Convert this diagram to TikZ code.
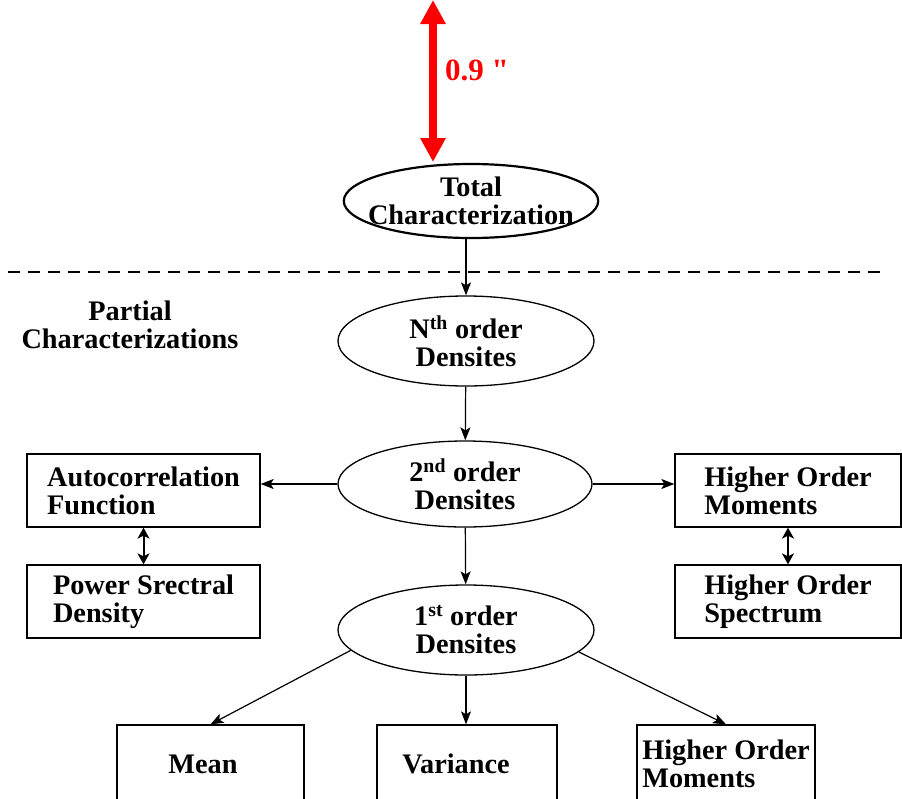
\documentclass[tikz,border=0pt]{standalone}
\usepackage{fontspec}
\setmainfont{Liberation Serif}
\newfontfamily\quotefont{Liberation Serif}[Ligatures=TeXOff]
\usetikzlibrary{shapes.geometric,arrows.meta}

\tikzset{
  txt/.style={font=\bfseries\fontsize{28.3}{28}\selectfont, align=center},
  oval/.style={txt, draw, line width=1.3pt, ellipse, inner sep=0pt, minimum width=256pt, minimum height=90pt},
  box/.style={txt, draw, line width=1.3pt, align=left, minimum height=73pt},
  arr/.style={line width=1.2pt, -{Stealth[length=13pt,width=10pt,inset=3pt]}},
  dblarr/.style={line width=2pt, {Stealth[length=11pt,width=12pt,inset=3pt]}-{Stealth[length=11pt,width=12pt,inset=3pt]}},
}

\begin{document}
\begin{tikzpicture}[x=1pt,y=-1pt]
\useasboundingbox (0,0) rectangle (902,798);
% total characterization with the red spacing mark above it
\node[oval, line width=2.2pt, inner xsep=-13pt, inner ysep=-6pt, minimum width=252pt, minimum height=74pt] (total) at (471,201) {Total\\Characterization};
\coordinate (top) at (433,0);
\coordinate (gap) at (433,162);
\draw[red, line width=8pt, {Triangle[length=24pt,width=24pt]}-{Triangle[length=24pt,width=24pt]}] (top) -- (gap);
\node[txt, red, font=\bfseries\fontsize{31}{31}\selectfont] (gaplbl) at (477,70) {0.9 {\quotefont\bfseries "}};

% dashed split
\coordinate (dl) at (8,272);
\coordinate (dr) at (882,272);
\draw[line width=1.3pt, dash pattern=on 12pt off 8pt] (dl) -- (dr);
\node[txt] (partial) at (130,325) {Partial\\Characterizations};

% densities
\node[oval] (nth) at (466,341) {N\textsuperscript{th} order\\Densites};
\node[oval, minimum width=254pt, minimum height=86pt] (second) at (465,484) {2\textsuperscript{nd} order\\Densites};
\node[oval] (first) at (466,630) {1\textsuperscript{st} order\\Densites};

% side boxes
\node[box, minimum width=233pt] (acf) at (143.5,490.5) {Autocorrelation\\Function};
\node[box, minimum width=233pt] (psd) at (143.5,601.5) {Power Srectral\\Density};
\node[box, minimum width=226pt] (hom) at (788,490.5) {Higher Order\\Moments};
\node[box, minimum width=226pt] (hos) at (788,601.5) {Higher Order\\Spectrum};

% bottom boxes (cut by the page edge)
\node[box, minimum width=187pt, minimum height=78pt] (mean) at (210.5,764) {Mean\hspace*{15pt}};
\node[box, minimum width=180pt, minimum height=78pt] (var) at (467,764) {Variance\hspace*{22pt}};
\node[box, minimum width=178pt, minimum height=78pt] (hom2) at (726,764) {Higher Order\\Moments};

% connectors
\draw[arr] (nth.north |- total.south) -- (nth.north);
\draw[arr] (nth) -- (second);
\draw[arr] (second) -- (first);
\draw[arr] (second.west) -- (second.west -| acf.east);
\draw[arr] (second.east) -- (second.east -| hom.west);
\draw[dblarr] (acf) -- (psd);
\draw[dblarr] (hom) -- (hos);
\draw[arr] (first.190) -- (mean.north);
\draw[arr] (first) -- (first.south |- var.north);
\draw[arr] (first.349) -- (hom2.north);
\end{tikzpicture}
\end{document}
